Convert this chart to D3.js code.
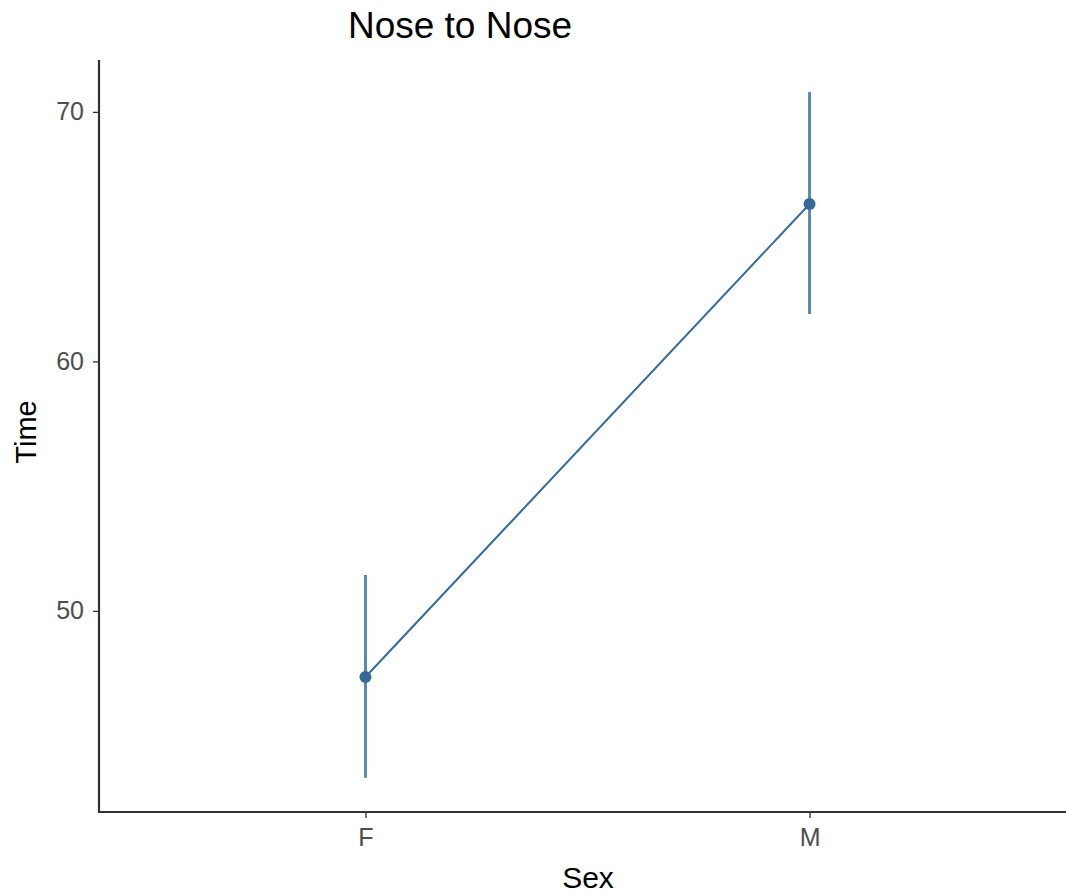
<!DOCTYPE html>
<html><head><meta charset="utf-8">
<script src="https://cdn.jsdelivr.net/npm/d3@7"></script>
<style>body{margin:0;background:#fff}svg{display:block}</style>
</head><body>
<script>
const categories = ["F", "M"];
const means = [47.35, 66.31];
const lower = [43.31, 61.90];
const upper = [51.44, 70.80];
const yTicks = [50, 60, 70];

const W = 1066, H = 895;
const mLeft = 99, mRight = 1076, mTop = 60, mBottom = 812;
const svg = d3.select("body").append("svg").attr("width", W).attr("height", H);

const x = d3.scalePoint().domain(categories).range([mLeft, mRight]).padding(0.6);
const y = d3.scaleLinear().domain([41.94, 72.08]).range([mBottom, mTop]);

const fontFam = "Liberation Sans, Arial, Helvetica, sans-serif";
const col = "#336a98";

// error bars
svg.selectAll(".err").data(categories).join("line")
  .attr("x1", d => x(d)).attr("x2", d => x(d))
  .attr("y1", (d, i) => y(lower[i])).attr("y2", (d, i) => y(upper[i]))
  .attr("stroke", col).attr("stroke-opacity", 0.8).attr("stroke-width", 3);

// line
svg.append("path").datum(categories)
  .attr("d", d3.line().x(d => x(d)).y((d, i) => y(means[i])))
  .attr("fill", "none").attr("stroke", col).attr("stroke-width", 2);

// points
svg.selectAll(".pt").data(categories).join("circle")
  .attr("cx", d => x(d)).attr("cy", (d, i) => y(means[i])).attr("r", 6)
  .attr("fill", col);

// axes
const yAxis = svg.append("g").attr("transform", `translate(${mLeft},0)`)
  .call(d3.axisLeft(y).tickValues(yTicks).tickSize(6).tickPadding(9));
const xAxis = svg.append("g").attr("transform", `translate(0,${mBottom})`)
  .call(d3.axisBottom(x).tickSize(6).tickPadding(10));
[yAxis, xAxis].forEach(g => {
  g.select(".domain").remove();
  g.selectAll(".tick line").attr("stroke", "#333").attr("stroke-width", 1.3);
  g.selectAll(".tick text").attr("fill", "#4d4d4d").style("font-size", "25px").style("font-family", fontFam);
});
svg.append("line").attr("x1", mLeft).attr("x2", mLeft).attr("y1", mTop).attr("y2", mBottom + 1)
  .attr("stroke", "#333").attr("stroke-width", 2.2);
svg.append("line").attr("x1", mLeft - 1).attr("x2", W).attr("y1", mBottom).attr("y2", mBottom)
  .attr("stroke", "#333").attr("stroke-width", 2.2);

// titles
svg.append("text").attr("x", 460).attr("y", 38).attr("text-anchor", "middle")
  .style("font-size", "37px").style("font-family", fontFam).attr("fill", "#000").text("Nose to Nose");
svg.append("text").attr("x", 588).attr("y", 888)
  .attr("text-anchor", "middle").style("font-size", "30px").style("font-family", fontFam).attr("fill", "#000").text("Sex");
svg.append("text").attr("transform", "translate(36,432) rotate(-90)").attr("text-anchor", "middle")
  .style("font-size", "29px").style("font-family", fontFam).attr("fill", "#000").text("Time");
</script>
</body></html>
